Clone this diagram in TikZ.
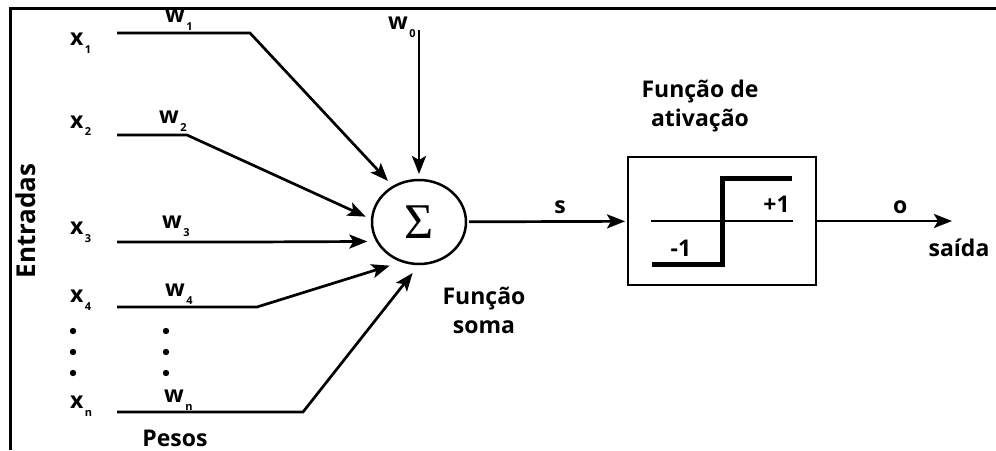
\documentclass[tikz,border=0pt]{standalone}
\usepackage{fontspec}
\usetikzlibrary{arrows.meta,shapes.geometric,calc}

\newfontfamily\etiq{Open Sans}
\newfontfamily\grega{Liberation Serif}

% letra com indice pequeno e baixo
\newcommand{\subind}[2]{#1\kern1.5pt\raisebox{-7.5pt}{\fontsize{11}{11}\selectfont #2}}

\begin{document}
\begin{tikzpicture}[x=1pt, y=-1pt,
    rotulo/.style={font=\etiq\bfseries\fontsize{23}{29}\selectfont, inner sep=0pt},
    liga/.style={line width=2.7pt, -{Stealth[length=18pt,width=14pt,inset=4pt]}},
    somador/.style={ellipse, draw, line width=2.5pt, minimum width=94pt,
        minimum height=84pt, inner sep=0pt, outer sep=0pt},
    caixa/.style={rectangle, draw, line width=2.7pt, minimum width=188pt,
        minimum height=128pt, inner sep=0pt, outer sep=0pt}]

    \useasboundingbox (0,0) rectangle (996,450);

    % moldura (so topo e lado esquerdo)
    \draw[line width=3pt] (996,8.5) -- (10,8.5) -- (10,450);

    \node[somador] (soma) at (419,222) {\grega\fontsize{50}{50}\selectfont Σ};

    % entradas: #1 indice, #2 y da linha, #3 x da dobra, #4 angulo de chegada,
    % #5 recuo da seta, #6 base do x, #7 x do peso, #8 base do peso
    \newcommand{\entrada}[8]{%
        \node[rotulo, anchor=base west] (x#1) at (70,#6) {\subind{x}{#1}};
        \node[rotulo, anchor=base west] (w#1) at (#7,#8) {\subind{w}{#1}};
        \coordinate (ini#1) at (117,#2);
        \coordinate (dob#1) at (#3,#2);
        \draw[liga, shorten >=#5pt] (ini#1) -- (dob#1) -- (soma.#4);}

    \entrada{1}{33}{250}{126.4}{8}{45.5}{165}{22.5}
    \entrada{2}{135}{187}{177.5}{7}{128}{159}{123.5}
    \entrada{3}{242}{250}{205.8}{10}{234.5}{162}{228.5}
    \entrada{4}{307}{257}{248.6}{14}{302.5}{165}{296.5}
    \entrada{n}{412}{303}{271.5}{11.5}{408.5}{164}{402.5}

    % reticencias
    \foreach \yy in {331,352,373} {
        \fill (73,\yy) circle (3.2pt);
        \fill (166,\yy) circle (3.2pt);
    }

    % bias
    \node[rotulo, anchor=base west] (w0) at (388,29.5) {\subind{w}{0}};
    \coordinate (topo0) at (419,30);
    \draw[liga, shorten >=6pt] (topo0) -- (soma.90);

    \node[rotulo, rotate=90] (entradas) at (26,221) {\fontsize{26}{26}\selectfont Entradas};
    \node[rotulo, anchor=base] (pesos) at (175,446) {Pesos};
    \node[rotulo, anchor=base, align=center] (nomesoma) at (484,333) {Função\\soma};

    % funcao de ativacao
    \node[caixa] (ativ) at (722,221) {};
    \node[rotulo, anchor=base, align=center] (nomeativ) at (700,126) {Função de\\ativação};
    \draw[line width=2.2pt] ([xshift=-71pt]ativ.center) -- ([xshift=71pt]ativ.center);
    \draw[line width=5pt] ($(ativ.center)+(-70,43)$) -- ($(ativ.center)+(0,43)$)
        -- ($(ativ.center)+(0,-43)$) -- ($(ativ.center)+(70,-43)$);
    \node[rotulo] (mais) at (776.5,204) {+1};
    \node[rotulo] (menos) at (681,248) {-1};

    \draw[liga, shorten <=3pt, shorten >=3pt] (soma) -- (ativ) node[rotulo, pos=0.58, above=6pt] (s) {s};
    \coordinate (fim) at (952,221);
    \draw[liga] (ativ) -- (fim) node[rotulo, pos=0.62, above=6pt] (o) {o};
    \node[rotulo, anchor=base] (saida) at (959,256) {saída};

\end{tikzpicture}
\end{document}
